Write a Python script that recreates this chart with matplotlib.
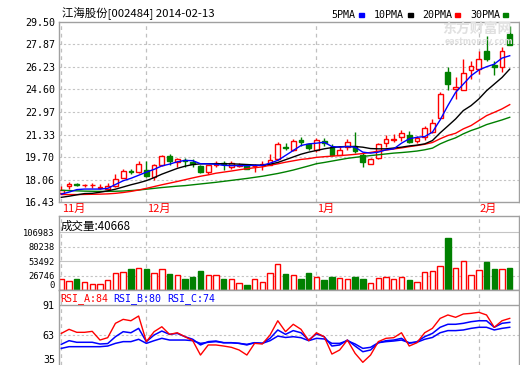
import numpy as np
import matplotlib
matplotlib.use("Agg")
import matplotlib.pyplot as plt
from matplotlib.patches import Rectangle
from matplotlib.transforms import blended_transform_factory

# candles, 2013-11-15 .. 2014-02-13
opens = [17.08, 17.56, 17.72, 17.64, 17.63, 17.44, 17.37, 17.59, 18.20, 18.70,
         18.58, 18.72, 18.25, 19.09, 19.74, 19.32, 19.50, 19.30, 19.02, 18.60,
         19.10, 19.25, 18.95, 19.05, 19.09, 19.02, 19.10, 19.14, 19.57, 20.40,
         20.22, 20.94, 20.62, 20.17, 20.89, 20.41, 19.86, 20.41, 20.53, 19.81,
         19.21, 19.62, 20.73, 20.95, 21.13, 21.31, 20.89, 21.13, 21.50, 22.56,
         25.87, 24.61, 24.58, 25.98, 26.10, 27.43, 26.39, 26.23, 28.64]
closes = [17.33, 17.71, 17.66, 17.66, 17.66, 17.50, 17.59, 18.12, 18.65, 18.62,
          19.16, 18.34, 19.10, 19.74, 19.40, 19.52, 19.38, 19.22, 18.60, 19.09,
          19.28, 19.16, 19.25, 19.12, 18.85, 19.08, 19.16, 19.45, 20.65, 20.35,
          20.89, 20.77, 20.33, 20.95, 20.75, 19.86, 20.17, 20.82, 20.10, 19.32,
          19.57, 20.65, 21.02, 21.00, 21.45, 20.77, 21.06, 21.79, 22.18, 24.30,
          24.97, 24.78, 25.82, 26.30, 26.83, 26.78, 26.23, 27.43, 27.84]
highs = [17.59, 17.88, 17.80, 17.73, 17.80, 17.73, 17.80, 18.48, 18.85, 18.85,
         19.40, 19.38, 19.20, 19.86, 19.90, 19.61, 19.61, 19.55, 19.14, 19.12,
         19.40, 19.40, 19.40, 19.25, 19.15, 19.21, 19.40, 19.88, 20.82, 20.73,
         21.00, 21.18, 20.70, 21.10, 21.06, 20.62, 20.46, 21.02, 21.50, 20.00,
         19.62, 20.75, 21.26, 21.38, 21.69, 21.55, 21.20, 21.95, 22.46, 24.40,
         26.23, 25.50, 26.78, 26.70, 27.43, 28.51, 26.70, 27.67, 29.24]
lows = [17.02, 17.40, 17.57, 17.52, 17.45, 17.35, 17.33, 17.52, 18.15, 18.48,
        18.53, 18.24, 18.05, 19.01, 19.10, 18.95, 19.00, 19.00, 18.53, 18.45,
        19.00, 18.78, 18.85, 18.95, 18.80, 18.60, 18.78, 19.10, 19.45, 20.17,
        20.10, 20.53, 20.20, 20.05, 20.53, 19.80, 19.82, 20.17, 20.00, 18.96,
        19.18, 19.55, 20.41, 20.77, 20.89, 20.72, 20.70, 20.95, 21.45, 22.50,
        24.53, 23.88, 24.53, 25.38, 25.74, 26.70, 25.67, 25.87, 27.84]

volumes = [19900, 15800, 19900, 14000, 10300, 10300, 18100, 30800, 33900, 38100,
           41100, 38100, 30800, 39300, 29000, 28400, 19900, 23600, 34400, 27200,
           27200, 19900, 21200, 12700, 9100, 21200, 14000, 30800, 48900, 29000,
           28400, 19900, 30800, 23600, 18100, 23600, 22000, 19900, 23600, 19900,
           12100, 22000, 23600, 19900, 23600, 18100, 14500, 32600, 34400, 45300,
           96600, 41100, 54400, 28400, 36300, 51300, 38100, 38100, 40668]

ma5 = [17.00, 17.15, 17.33, 17.37, 17.37, 17.37, 17.42, 17.70, 17.97, 18.15,
       18.37, 18.60, 18.80, 19.05, 19.18, 19.35, 19.45, 19.43, 19.21, 19.20,
       19.17, 19.09, 19.07, 19.07, 19.07, 19.09, 19.09, 19.25, 19.45, 19.81,
       20.17, 20.53, 20.65, 20.70, 20.77, 20.46, 20.41, 20.46, 20.41, 20.05,
       19.98, 20.05, 20.22, 20.29, 20.70, 21.02, 21.13, 21.18, 21.50, 22.39,
       23.43, 24.39, 24.99, 25.60, 26.01, 26.25, 26.44, 26.88, 27.05]
ma10 = [16.77, 16.85, 16.95, 17.04, 17.06, 17.14, 17.24, 17.36, 17.52, 17.68,
        17.82, 17.98, 18.20, 18.45, 18.66, 18.87, 19.03, 19.15, 19.20, 19.21,
        19.21, 19.21, 19.20, 19.18, 19.15, 19.12, 19.10, 19.18, 19.30, 19.50,
        19.70, 19.90, 20.05, 20.17, 20.29, 20.38, 20.44, 20.46, 20.46, 20.41,
        20.31, 20.29, 20.29, 20.35, 20.41, 20.50, 20.56, 20.65, 20.89, 21.45,
        21.95, 22.46, 23.07, 23.43, 23.91, 24.51, 24.99, 25.47, 26.08]
ma20 = [16.97, 16.97, 16.97, 16.98, 16.99, 17.00, 17.02, 17.06, 17.12, 17.20,
        17.30, 17.42, 17.55, 17.68, 17.80, 17.92, 18.05, 18.18, 18.30, 18.40,
        18.52, 18.60, 18.68, 18.77, 18.85, 18.92, 18.98, 19.10, 19.20, 19.32,
        19.42, 19.52, 19.58, 19.67, 19.72, 19.76, 19.80, 19.84, 19.89, 19.95,
        20.03, 20.12, 20.20, 20.28, 20.36, 20.45, 20.53, 20.62, 20.75, 21.02,
        21.26, 21.42, 21.74, 21.98, 22.34, 22.70, 22.94, 23.19, 23.50]
ma30 = [17.28, 17.26, 17.24, 17.22, 17.21, 17.20, 17.20, 17.21, 17.23, 17.26,
        17.30, 17.36, 17.42, 17.48, 17.53, 17.58, 17.62, 17.68, 17.74, 17.80,
        17.86, 17.93, 18.00, 18.07, 18.14, 18.22, 18.30, 18.40, 18.50, 18.62,
        18.75, 18.90, 19.05, 19.21, 19.30, 19.40, 19.50, 19.60, 19.67, 19.74,
        19.80, 19.86, 19.92, 19.98, 20.02, 20.07, 20.13, 20.22, 20.34, 20.65,
        20.89, 21.09, 21.38, 21.62, 21.81, 22.05, 22.22, 22.39, 22.58]

rsi_a = [64.5, 68.3, 65.5, 65.5, 66.4, 58.3, 60.5, 73.9, 77.6, 76.3,
         80.7, 56.8, 66.1, 70.7, 63.6, 65.1, 61.4, 57.7, 44.3, 53.7,
         53.7, 52.7, 51.5, 49.0, 44.3, 55.2, 54.6, 63.0, 76.3, 66.1,
         73.0, 68.3, 57.7, 65.1, 61.4, 45.2, 49.0, 58.3, 45.9, 37.5,
         44.3, 56.8, 59.9, 60.5, 65.1, 52.7, 55.8, 65.1, 69.2, 78.5,
         81.7, 79.5, 82.6, 83.2, 84.2, 81.7, 70.2, 76.3, 78.5]
rsi_b = [54.3, 57.7, 56.2, 56.2, 56.2, 54.6, 55.0, 61.4, 66.1, 65.1,
         69.2, 56.8, 63.0, 66.7, 63.6, 64.5, 61.4, 59.0, 53.7, 56.8,
         57.4, 55.8, 55.8, 55.2, 53.7, 55.8, 55.2, 59.9, 67.7, 63.6,
         67.1, 65.1, 58.3, 64.1, 61.4, 52.7, 53.7, 58.3, 52.7, 47.4,
         49.0, 55.8, 57.7, 58.3, 59.9, 55.2, 56.8, 61.4, 64.5, 70.2,
         73.0, 73.0, 73.9, 75.4, 76.3, 76.3, 70.2, 73.9, 74.8]
rsi_c = [50.5, 52.1, 52.1, 52.1, 52.1, 52.1, 52.7, 55.2, 56.8, 56.8,
         59.0, 55.2, 57.7, 59.9, 58.3, 58.3, 58.3, 57.7, 55.2, 56.2,
         56.8, 55.8, 55.8, 55.2, 54.3, 55.8, 55.2, 57.7, 62.0, 60.7,
         61.4, 60.5, 57.7, 59.9, 59.3, 55.2, 55.2, 57.7, 54.6, 50.5,
         51.5, 55.8, 56.8, 57.4, 58.3, 55.8, 56.2, 59.0, 60.7, 65.1,
         67.1, 67.1, 67.7, 69.2, 70.2, 70.2, 67.7, 69.2, 70.2]

month_labels = ["11月", "12月", "1月", "2月"]
month_starts = [0, 11, 33, 54]

price_ticks = [16.43, 18.06, 19.70, 21.33, 22.97, 24.60, 26.23, 27.87, 29.50]
price_tick_labels = ["16.43", "18.06", "19.70", "21.33", "22.97", "24.60", "26.23", "27.87", "29.50"]
vol_ticks = [0, 26746, 53492, 80238, 106983]
rsi_ticks = [35, 63, 91]

W, H = 520, 365
RED, GREEN, BLUE = "#ff0000", "#008000", "#0000ff"
FRAME = "#a0a0a0"
GRID = "#c4c4c4"
MONO = "DejaVu Sans Mono"
CJK = ["Noto Sans CJK SC", "DejaVu Sans"]


def rect(left, top, right, bottom):
    return [left / W, 1 - bottom / H, (right - left) / W, (bottom - top) / H]


def style_axis(ax):
    for s in ax.spines.values():
        s.set_color(FRAME)
        s.set_linewidth(1.0)
    ax.tick_params(axis="y", length=0, pad=3, labelsize=7.2, labelcolor="black")
    ax.tick_params(axis="x", length=0, labelbottom=False)
    for lab in ax.get_yticklabels():
        lab.set_fontfamily(MONO)
    ax.set_xlim(-0.3, len(closes) + 0.2)
    for m in month_starts:
        ax.axvline(m, color="#c0c0c0", lw=0.9, ls=(0, (3, 3)), zorder=0.5)


fig = plt.figure(figsize=(W / 100, H / 100), dpi=100)
ax_p = fig.add_axes(rect(59, 22, 519, 202))
ax_v = fig.add_axes(rect(59, 216, 519, 290))
ax_r = fig.add_axes(rect(59, 290, 519, 365))

o = np.array(opens)
c = np.array(closes)
hi = np.array(highs)
lo = np.array(lows)
x = np.arange(len(c))
up = c >= o
edge = np.where(up, RED, GREEN)
face = np.where(up, "white", GREEN)

### price panel
body_lo = np.minimum(o, c)
body_hi = np.maximum(o, c)
body_h = np.maximum(body_hi - body_lo, 0.015)
ax_p.vlines(x, lo, body_lo, colors=edge, lw=1.0, zorder=2)
ax_p.vlines(x, body_hi, hi, colors=edge, lw=1.0, zorder=2)
ax_p.bar(x, body_h, bottom=body_lo, width=0.62, color=face, edgecolor=edge,
         linewidth=1.0, zorder=2.5)
ax_p.plot(x, ma30, color=GREEN, lw=1.0, zorder=3)
ax_p.plot(x, ma20, color=RED, lw=1.0, zorder=3)
ax_p.plot(x, ma10, color="black", lw=1.0, zorder=3)
ax_p.plot(x, ma5, color=BLUE, lw=1.0, zorder=3)
ax_p.set_ylim(price_ticks[0], price_ticks[-1])
ax_p.set_yticks(price_ticks)
ax_p.set_yticklabels(price_tick_labels)
for t in price_ticks[1:-1]:
    ax_p.axhline(t, color=GRID, lw=0.8, ls=(0, (2, 2)), zorder=0.4)
style_axis(ax_p)

trans = blended_transform_factory(ax_p.transData, ax_p.transAxes)
for m, lab in zip(month_starts, month_labels):
    ax_p.text(m + 0.05, -0.04, lab, transform=trans, color=RED, fontsize=8,
              family=CJK, ha="left", va="center", clip_on=False)

### volume panel
ax_v.bar(x, volumes, width=0.7, color=face, edgecolor=edge, linewidth=1.0, zorder=2)
ax_v.set_ylim(0, 137000)
ax_v.set_yticks(vol_ticks)
ax_v.set_yticklabels([str(v) for v in vol_ticks])
for v, ls in zip(vol_ticks[1:], [(0, (2, 2)), "-", (0, (2, 2)), "-"]):
    ax_v.axhline(v, color=GRID, lw=0.8, ls=ls, zorder=0.4)
style_axis(ax_v)
ax_v.tick_params(axis="y", labelsize=6.3)
for lab in ax_v.get_yticklabels():
    lab.set_fontfamily(MONO)
ax_v.get_yticklabels()[0].set_va("bottom")
ax_v.text(0.003, 0.86, "成交量:%d" % volumes[-1], transform=ax_v.transAxes,
          fontsize=8.3, family=CJK, va="center", ha="left")

### RSI panel
ax_r.plot(x, rsi_c, color=BLUE, lw=1.1, zorder=3)
ax_r.plot(x, rsi_b, color=BLUE, lw=1.1, zorder=3)
ax_r.plot(x, rsi_a, color=RED, lw=1.0, zorder=3)
ax_r.set_ylim(35, 105)
ax_r.set_yticks(rsi_ticks)
ax_r.axhline(91, color=FRAME, lw=1.0, zorder=0.4)
ax_r.axhline(63, color=GRID, lw=0.8, ls=(0, (2, 2)), zorder=0.4)
style_axis(ax_r)
ax_r.spines["bottom"].set_visible(False)
ax_r.get_yticklabels()[0].set_va("bottom")
for lab, col, px in [("RSI_A:84", RED, 60), ("RSI_B:80", BLUE, 113), ("RSI_C:74", BLUE, 167)]:
    fig.text(px / W, 1 - 299 / H, lab, color=col, fontsize=7.2, family=MONO, va="center")

### header
fig.text(62 / W, 1 - 14 / H, "江海股份[002484] 2014-02-13", fontsize=8.2,
         family=CJK, va="center", ha="left")
for lab, col, tx, sx in [("5PMA", BLUE, 331, 359), ("10PMA", "black", 374, 408),
                         ("20PMA", RED, 422, 455), ("30PMA", GREEN, 470, 503)]:
    fig.text(tx / W, 1 - 14.5 / H, lab, fontsize=7.2, family=MONO, va="center")
    fig.add_artist(Rectangle((sx / W, 1 - 16.5 / H), 5 / W, 4 / H, color=col,
                             transform=fig.transFigure))

# watermark
fig.text(442 / W, 1 - 29 / H, "东方财富网", fontsize=10, family=CJK, color="#e0e0e0",
         weight="bold", va="center", zorder=0)
fig.text(445 / W, 1 - 41 / H, "eastmoney.com", fontsize=5.6, color="#e0e0e0",
         weight="bold", va="center", zorder=0)

fig.savefig("out.png", dpi=100, facecolor="white")
